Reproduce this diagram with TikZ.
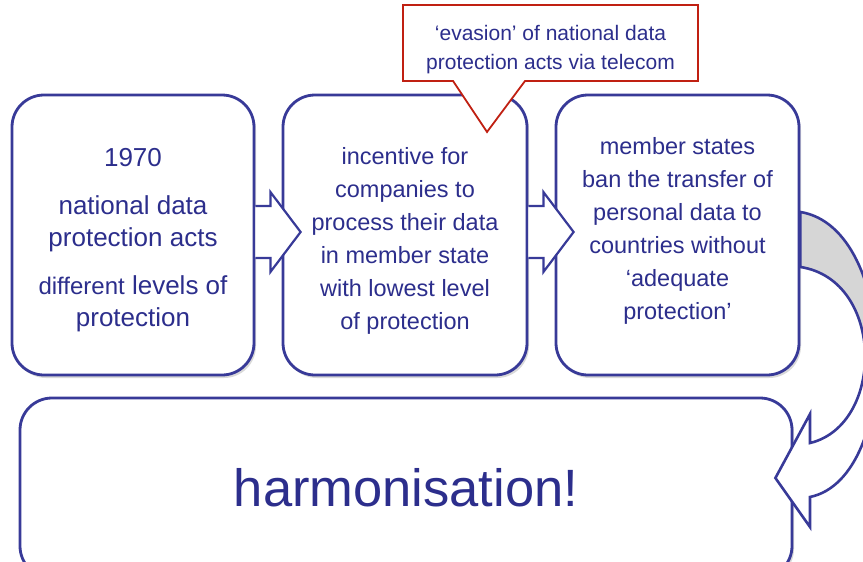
\documentclass[tikz,border=0pt]{standalone}
\usepackage{fontspec}
\setmainfont{Liberation Sans}
\usetikzlibrary{calc,shadows}
\definecolor{boxblue}{RGB}{56,58,152}
\definecolor{textblue}{RGB}{44,46,140}
\definecolor{calloutred}{RGB}{192,32,18}
\tikzset{
  stagebox/.style={draw=boxblue,line width=2.8pt,fill=white,rounded corners=32pt,
    text=textblue,align=center,inner sep=0pt,
    drop shadow={shadow xshift=2pt,shadow yshift=-3pt,fill=black,opacity=.15}},
  stagetext/.style={text=textblue,align=center,inner sep=0pt},
  blockarrow/.style={draw=boxblue,line width=2.2pt,fill=white,line join=miter},
  calloutline/.style={draw=calloutred,line width=1.8pt,fill=white,line join=miter},
}

\begin{document}
\begin{tikzpicture}[x=1pt,y=-1pt]
        \useasboundingbox (0,0) rectangle (863,562);
        \clip (0,0) rectangle (863,562);

        %%% STAGES %%%
        \node[stagebox,minimum width=242pt,minimum height=280pt] (early) at (133,235) {};
        \node[stagebox,minimum width=244pt,minimum height=280pt] (incentive) at (405,235) {};
        \node[stagebox,minimum width=243pt,minimum height=280pt] (ban) at (677.5,235) {};
        \node[stagebox,minimum width=772pt,minimum height=180pt,font=\fontsize{52.5}{60}\selectfont] (harmonise) at (406,488)
            {harmonisation!};

        \node[stagetext,font=\fontsize{26}{32}\selectfont] (earlytext) at ($(early)+(0,5)$)
            {1970\\[16pt] national data\\ protection acts\\[16pt] {\fontsize{24}{32}\selectfont different} levels of\\ protection};
        \node[stagetext,font=\fontsize{23.5}{33}\selectfont] (incentivetext) at ($(incentive)+(0,6)$)
            {incentive for\\ companies to\\ process their data\\ in member state\\ with lowest level\\ of protection};
        \node[stagetext,font=\fontsize{23.5}{33}\selectfont] (bantext) at ($(ban)+(0,-4)$)
            {member states\\ ban the transfer of\\ personal data to\\ countries without\\ ‘adequate\\ protection’};

        %%% BLOCK ARROWS %%%
        \foreach \a/\b in {early/incentive,incentive/ban}
            \draw[blockarrow] ($(\a.east)+(0,-29)$) -- ++(15,0) -- ++(0,-14) -- ($(\b.west)+(19,-3)$)
                -- ($(\a.east)+(15,37)$) -- ++(0,-14) -- ++(-15,0);

        %%% CALLOUT %%%
        \coordinate (tip) at (487,132);
        \draw[calloutline] (403,5) -- (698,5) -- (698,81) -- (525,81) -- (tip) -- (453,81) -- (403,81) -- cycle;
        \node[stagetext,font=\fontsize{21}{29}\selectfont] (evasion) at (550.5,50)
            {‘evasion’ of national data\\ protection acts via telecom};

        %%% CURVED ARROW %%%
        \coordinate (outer) at ($(ban.east)+(0,-23)$);
        \coordinate (inner) at ($(ban.east)+(0,32)$);
        \coordinate (point) at ($(harmonise.east)+(-18,-10)$);
        \def\looppath{(outer) .. controls (900,228) and (902,478) .. (810,497) -- (810,527) -- (point)
            -- (810,414) -- (810,443) .. controls (885,425) and (885,280) .. (inner) -- cycle}
        \fill[white] \looppath;
        \begin{scope}
            \clip (780,190) rectangle (870,345);
            \fill[black!16] \looppath;
        \end{scope}
        \draw[blockarrow,fill=none,line width=2.6pt] \looppath;
\end{tikzpicture}
\end{document}
